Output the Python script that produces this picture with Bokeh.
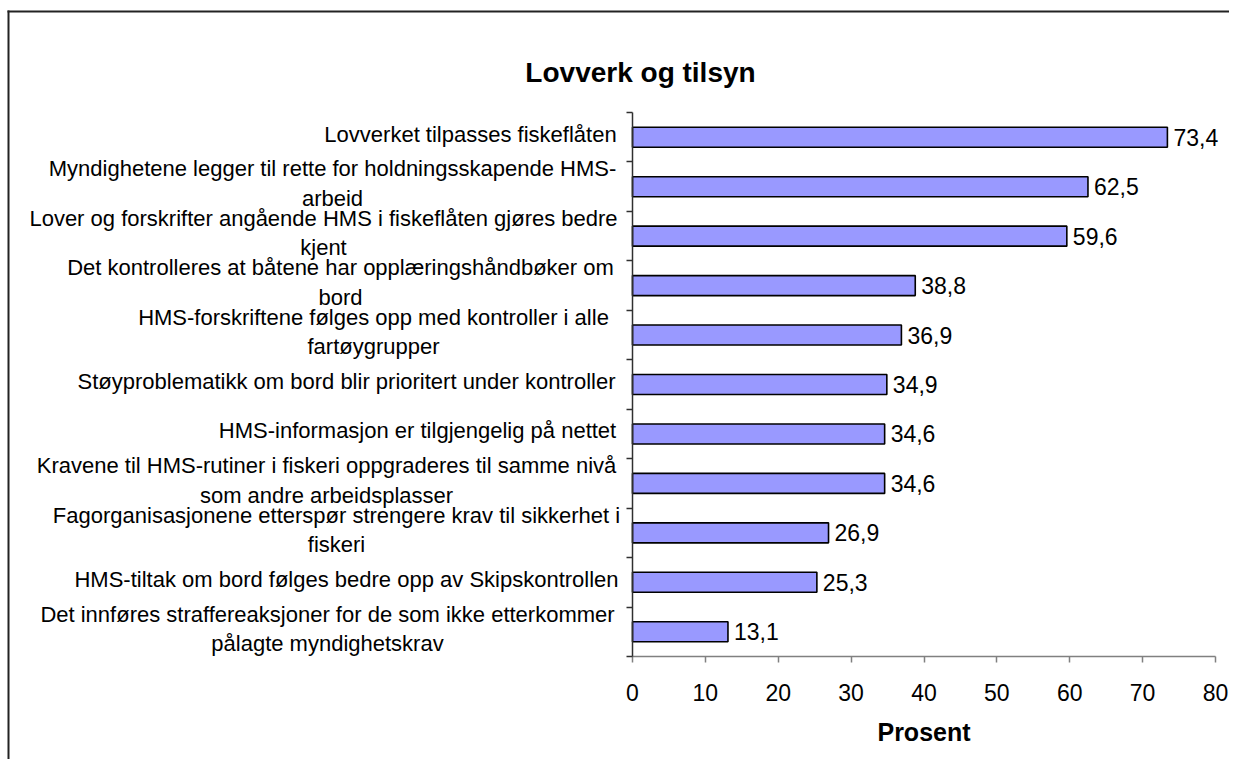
from bokeh.plotting import figure
from bokeh.models import ColumnDataSource, Range1d, FixedTicker, BoxAnnotation
from bokeh.core.properties import value
from bokeh.embed import file_html
from bokeh.resources import INLINE

# ---------------- data ----------------
title_text = "Lovverk og tilsyn"
x_title = "Prosent"
categories = [
    "Lovverket tilpasses fiskeflåten",
    "Myndighetene legger til rette for holdningsskapende HMS-\narbeid",
    "Lover og forskrifter angående HMS i fiskeflåten gjøres bedre\nkjent",
    "Det kontrolleres at båtene har opplæringshåndbøker om\nbord",
    "HMS-forskriftene følges opp med kontroller i alle\nfartøygrupper",
    "Støyproblematikk om bord blir prioritert under kontroller",
    "HMS-informasjon er tilgjengelig på nettet",
    "Kravene til HMS-rutiner i fiskeri oppgraderes til samme nivå\nsom andre arbeidsplasser",
    "Fagorganisasjonene etterspør strengere krav til sikkerhet i\nfiskeri",
    "HMS-tiltak om bord følges bedre opp av Skipskontrollen",
    "Det innføres straffereaksjoner for de som ikke etterkommer\npålagte myndighetskrav",
]
values = [73.4, 62.5, 59.6, 38.8, 36.9, 34.9, 34.6, 34.6, 26.9, 25.3, 13.1]
x_ticks = [0, 10, 20, 30, 40, 50, 60, 70, 80]
value_labels = [f"{v:.1f}".replace(".", ",") for v in values]

# ---------------- layout (page pixels; canvas sits at page 0,0) ----------------
FONT = "Liberation Sans"
W, H = 1229, 759
AX_L, AX_R, AX_T, AX_B = 632, 1215, 112, 656   # value axis area (0..80, 11 bands)
label_centers_px = [470, 332, 323, 340, 373, 346, 417, 326, 336, 346, 327]

n = len(categories)
x_max = x_ticks[-1]
px_per_x = (AX_R - AX_L) / x_max
px_per_y = (AX_B - AX_T) / n


def px_to_x(px):
    return (px - AX_L) / px_per_x


def py_to_y(py):
    return n - (py - AX_T) / px_per_y


ys = [n - 0.5 - i for i in range(n)]
src = ColumnDataSource(dict(y=ys, v=values, lab=value_labels))
cat_src = ColumnDataSource(dict(
    x=[px_to_x(c) for c in label_centers_px],
    y=[y + 3 / px_per_y for y in ys],
    t=categories,
))

p = figure(
    width=W, height=H, frame_width=W, frame_height=H,
    min_border_left=0, min_border_right=0, min_border_top=0, min_border_bottom=0,
    x_range=Range1d(px_to_x(0), px_to_x(W)), y_range=Range1d(py_to_y(H), py_to_y(0)),
    output_backend="svg", toolbar_location=None,
)
p.background_fill_color = "white"
p.border_fill_color = "white"
p.outline_line_color = None
p.xgrid.visible = False
p.ygrid.visible = False

# outer chart border: left and top edges (right and bottom lie outside the view)
BORDER = "#222222"
p.add_layout(BoxAnnotation(
    left=px_to_x(7), right=px_to_x(9), top=py_to_y(10), bottom=py_to_y(H + 300),
    fill_color=BORDER, fill_alpha=1, line_color=None, level="underlay",
))
p.add_layout(BoxAnnotation(
    left=px_to_x(7), right=px_to_x(W + 300), top=py_to_y(10), bottom=py_to_y(12),
    fill_color=BORDER, fill_alpha=1, line_color=None, level="underlay",
))

# bars
p.hbar(y="y", right="v", left=0, height=20 / px_per_y, source=src,
       fill_color="#9999FF", line_color="black", line_width=1.6)

# value labels
p.text(x="v", y="y", text="lab", source=src, x_offset=6,
       text_align="left", text_baseline="middle",
       text_font=value(FONT), text_font_size="23px", text_color="black")

# category labels
p.text(x="x", y="y", text="t", source=cat_src,
       text_align="center", text_baseline="middle", text_line_height=1.18,
       text_font=value(FONT), text_font_size="22px", text_color="black")

# title
p.text(x=[px_to_x(640)], y=[py_to_y(72)], text=[title_text],
       text_align="center", text_baseline="middle",
       text_font=value(FONT), text_font_size="28px", text_font_style="bold",
       text_color="black")

# x axis title
p.text(x=[(x_ticks[0] + x_ticks[-1]) / 2], y=[py_to_y(731)], text=[x_title],
       text_align="center", text_baseline="middle",
       text_font=value(FONT), text_font_size="25px", text_font_style="bold",
       text_color="black")

# x axis, fixed at y = 0
xa = p.xaxis[0]
xa.fixed_location = 0
xa.ticker = FixedTicker(ticks=x_ticks)
xa.bounds = (x_ticks[0], x_ticks[-1])
xa.axis_line_color = "#808080"
xa.axis_line_width = 1.5
xa.major_tick_line_color = "#808080"
xa.major_tick_line_width = 1.5
xa.major_tick_out = 6
xa.major_tick_in = 0
xa.minor_tick_line_color = None
xa.major_label_text_font = FONT
xa.major_label_text_font_size = "23px"
xa.major_label_text_color = "black"
xa.major_label_standoff = 21

# y axis, fixed at x = 0
ya = p.yaxis[0]
ya.fixed_location = 0
ya.ticker = FixedTicker(ticks=list(range(n + 1)))
ya.bounds = (0, n)
ya.axis_line_color = "#303030"
ya.axis_line_width = 1.5
ya.major_tick_line_color = "#303030"
ya.major_tick_line_width = 1.5
ya.major_tick_out = 6
ya.major_tick_in = 0
ya.minor_tick_line_color = None
ya.major_label_standoff = 0
ya.major_label_overrides = {i: "" for i in range(n + 1)}

open("out.html", "w").write(file_html(p, INLINE))
